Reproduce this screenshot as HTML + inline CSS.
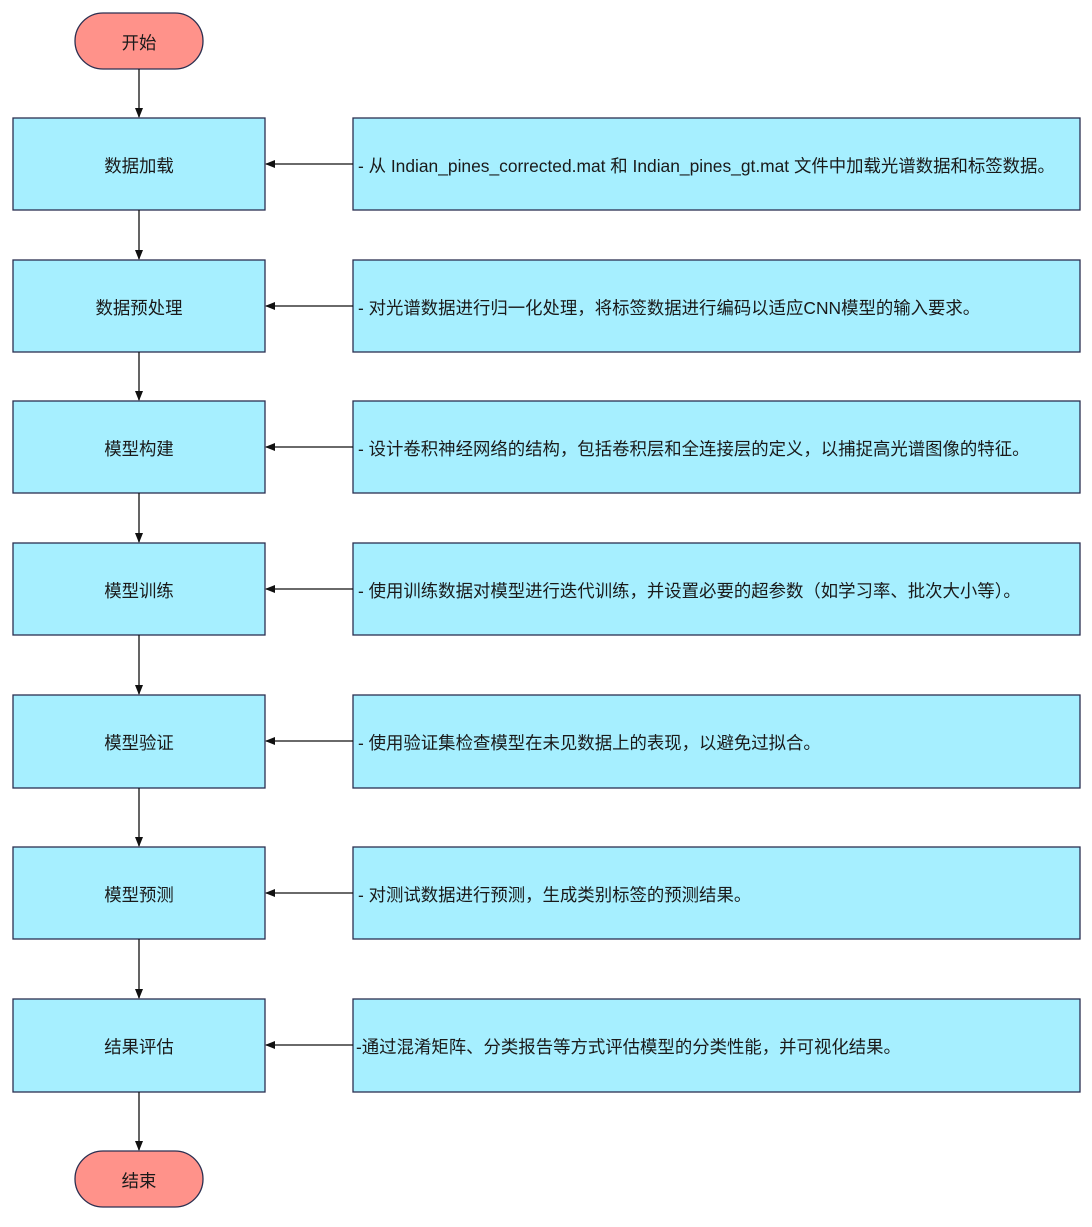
<!DOCTYPE html>
<html><head><meta charset="utf-8"><style>
html,body{margin:0;padding:0;background:#fff;}
svg{display:block}
text{font-family:"Liberation Sans","Noto Sans CJK SC",sans-serif;font-size:17.4px;fill:#1a1a1a}
</style></head><body>
<svg width="1092" height="1227" viewBox="0 0 1092 1227" xmlns="http://www.w3.org/2000/svg">
<defs><marker id="a" markerWidth="10" markerHeight="8" refX="9" refY="4" orient="auto" markerUnits="userSpaceOnUse"><path d="M0,0 L10,4 L0,8 z" fill="#111"/></marker></defs>
<g stroke="#2b2f50" stroke-width="1.3">
<rect x="75" y="13" width="128" height="56" rx="28" fill="#ff928a"/>
<rect x="75" y="1151" width="128" height="56" rx="28" fill="#ff928a"/>
<g fill="#a6efff">
<rect x="13" y="118" width="252" height="92"/><rect x="353" y="118" width="727" height="92"/>
<rect x="13" y="260" width="252" height="92"/><rect x="353" y="260" width="727" height="92"/>
<rect x="13" y="401" width="252" height="92"/><rect x="353" y="401" width="727" height="92"/>
<rect x="13" y="543" width="252" height="92"/><rect x="353" y="543" width="727" height="92"/>
<rect x="13" y="695" width="252" height="93"/><rect x="353" y="695" width="727" height="93"/>
<rect x="13" y="847" width="252" height="92"/><rect x="353" y="847" width="727" height="92"/>
<rect x="13" y="999" width="252" height="93"/><rect x="353" y="999" width="727" height="93"/>
</g></g>
<g stroke="#111" stroke-width="1.3" marker-end="url(#a)">
<line x1="139" y1="69" x2="139" y2="117"/>
<line x1="139" y1="210" x2="139" y2="259"/>
<line x1="139" y1="352" x2="139" y2="400"/>
<line x1="139" y1="493" x2="139" y2="542"/>
<line x1="139" y1="635" x2="139" y2="694"/>
<line x1="139" y1="788" x2="139" y2="846"/>
<line x1="139" y1="939" x2="139" y2="998"/>
<line x1="139" y1="1092" x2="139" y2="1150"/>
<line x1="353" y1="164" x2="266" y2="164"/>
<line x1="353" y1="306" x2="266" y2="306"/>
<line x1="353" y1="447" x2="266" y2="447"/>
<line x1="353" y1="589" x2="266" y2="589"/>
<line x1="353" y1="741" x2="266" y2="741"/>
<line x1="353" y1="893" x2="266" y2="893"/>
<line x1="353" y1="1045" x2="266" y2="1045"/>
</g>
<g text-anchor="middle">
<text x="139" y="49">开始</text>
<text x="139" y="1187">结束</text>
<text x="139" y="172">数据加载</text>
<text x="139" y="314">数据预处理</text>
<text x="139" y="455">模型构建</text>
<text x="139" y="597">模型训练</text>
<text x="139" y="749">模型验证</text>
<text x="139" y="901">模型预测</text>
<text x="139" y="1053">结果评估</text>
</g>
<g>
<text x="358" y="172">- 从 Indian_pines_corrected.mat 和 Indian_pines_gt.mat 文件中加载光谱数据和标签数据。</text>
<text x="358" y="314">- 对光谱数据进行归一化处理，将标签数据进行编码以适应CNN模型的输入要求。</text>
<text x="358" y="455">- 设计卷积神经网络的结构，包括卷积层和全连接层的定义，以捕捉高光谱图像的特征。</text>
<text x="358" y="597">- 使用训练数据对模型进行迭代训练，并设置必要的超参数（如学习率、批次大小等）。</text>
<text x="358" y="749">- 使用验证集检查模型在未见数据上的表现，以避免过拟合。</text>
<text x="358" y="901">- 对测试数据进行预测，生成类别标签的预测结果。</text>
<text x="356" y="1053">-通过混淆矩阵、分类报告等方式评估模型的分类性能，并可视化结果。</text>
</g>
</svg>
</body></html>
